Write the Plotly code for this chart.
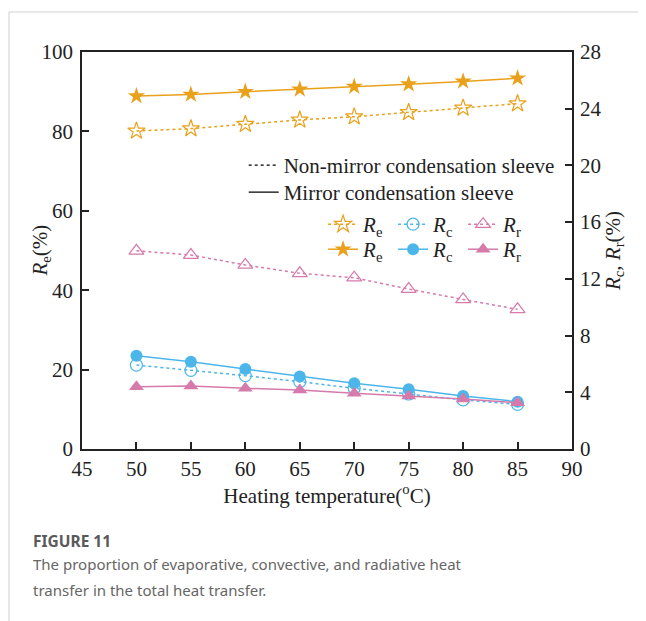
import plotly.graph_objects as go

temps = [50, 55, 60, 65, 70, 75, 80, 85]

# Non-mirror condensation sleeve
re_non = [80.1, 80.7, 81.8, 82.9, 83.7, 84.8, 85.9, 87.0]
rc_non = [5.92, 5.55, 5.17, 4.75, 4.28, 3.88, 3.46, 3.15]
rr_non = [13.98, 13.68, 12.98, 12.39, 12.08, 11.28, 10.55, 9.85]

# Mirror condensation sleeve
re_mir = [88.9, 89.3, 90.0, 90.6, 91.3, 91.9, 92.6, 93.4]
rc_mir = [6.58, 6.16, 5.64, 5.12, 4.63, 4.21, 3.74, 3.34]
rr_mir = [4.39, 4.44, 4.28, 4.16, 3.93, 3.74, 3.53, 3.27]

x_ticks = [45, 50, 55, 60, 65, 70, 75, 80, 85, 90]
y_left_ticks = [0, 20, 40, 60, 80, 100]
y_right_ticks = [0, 4, 8, 12, 16, 20, 24, 28]

ORANGE = "#E9A11B"
BLUE = "#4CB6EA"
PINK = "#D57AAA"
SERIF = "Liberation Serif, Times New Roman, serif"
FS = 21

fig = go.Figure()

# legend: line style explanation
fig.add_trace(go.Scatter(x=[None], y=[None], mode="lines", name="Non-mirror condensation sleeve",
                         line=dict(color="black", width=1.3, dash="dot"), legend="legend"))
fig.add_trace(go.Scatter(x=[None], y=[None], mode="lines", name="Mirror condensation sleeve",
                         line=dict(color="black", width=1.3), legend="legend2"))

# Non-mirror
fig.add_trace(go.Scatter(x=temps, y=re_non, mode="lines+markers", name="<i>R</i><sub>e</sub>",
                         line=dict(color=ORANGE, width=1.5, dash="dot"),
                         marker=dict(symbol="star-open", size=13, color=ORANGE, line=dict(width=1.2)),
                         legend="legend3", yaxis="y"))
fig.add_trace(go.Scatter(x=temps, y=rc_non, mode="lines+markers", name="<i>R</i><sub>c</sub>",
                         line=dict(color=BLUE, width=1.5, dash="dot"),
                         marker=dict(symbol="circle-open", size=12, color=BLUE, line=dict(width=1.2)),
                         legend="legend3", yaxis="y2"))
fig.add_trace(go.Scatter(x=temps, y=rr_non, mode="lines+markers", name="<i>R</i><sub>r</sub>",
                         line=dict(color=PINK, width=1.5, dash="dot"),
                         marker=dict(symbol="triangle-up-open", size=13, color=PINK, line=dict(width=1.2)),
                         legend="legend3", yaxis="y2"))

# Mirror
fig.add_trace(go.Scatter(x=temps, y=re_mir, mode="lines+markers", name="<i>R</i><sub>e</sub>",
                         line=dict(color=ORANGE, width=1.5),
                         marker=dict(symbol="star", size=13, color=ORANGE),
                         legend="legend4", yaxis="y"))
fig.add_trace(go.Scatter(x=temps, y=rc_mir, mode="lines+markers", name="<i>R</i><sub>c</sub>",
                         line=dict(color=BLUE, width=1.5),
                         marker=dict(symbol="circle", size=12, color=BLUE),
                         legend="legend4", yaxis="y2"))
fig.add_trace(go.Scatter(x=temps, y=rr_mir, mode="lines+markers", name="<i>R</i><sub>r</sub>",
                         line=dict(color=PINK, width=1.5),
                         marker=dict(symbol="triangle-up", size=13, color=PINK),
                         legend="legend4", yaxis="y2"))

axis_common = dict(showgrid=False, zeroline=False, showline=True, linecolor="#222", linewidth=1.5,
                   ticks="inside", ticklen=7, tickwidth=1.5, tickcolor="#222",
                   tickfont=dict(family=SERIF, size=FS, color="#222"))

leg_common = dict(xanchor="left", yanchor="top", bgcolor="rgba(0,0,0,0)",
                  font=dict(family=SERIF, size=FS, color="#222"))

fig.update_layout(
    width=638, height=613,
    paper_bgcolor="white", plot_bgcolor="white",
    margin=dict(l=74, r=74, t=44, b=172),
    font=dict(family=SERIF, size=FS, color="#222"),
    xaxis=dict(range=[45, 90], tickvals=x_ticks, mirror=True, ticklabelstandoff=0,
               title=dict(text="Heating temperature(<sup>o</sup>C)", font=dict(family=SERIF, size=FS),
                          standoff=2),
               **axis_common),
    yaxis=dict(range=[0, 100], tickvals=y_left_ticks, ticklabelstandoff=3, **axis_common),
    yaxis2=dict(range=[0, 28], tickvals=y_right_ticks, overlaying="y", side="right", ticklabelstandoff=2,
                title=dict(text="<i>R</i><sub>c</sub>, <i>R</i><sub>r</sub>(%)",
                           font=dict(family=SERIF, size=FS), standoff=4),
                **axis_common),
    legend=dict(x=0.33, y=0.766, **leg_common),
    legend2=dict(x=0.33, y=0.698, **leg_common),
    legend3=dict(x=0.492, y=0.617, orientation="h", entrywidth=25, **leg_common),
    legend4=dict(x=0.492, y=0.554, orientation="h", entrywidth=25, **leg_common),
    showlegend=True,
)

# left axis title
fig.add_annotation(xref="paper", yref="paper", x=-0.0857, y=0.5, xanchor="center", yanchor="middle",
                   text="<i>R</i><sub>e</sub>(%)", textangle=-90, showarrow=False,
                   font=dict(family=SERIF, size=FS, color="#222"))

# frame around figure panel (decorative)
fig.add_shape(type="line", xref="paper", yref="paper", x0=-0.149, x1=1.2, y0=1.1008, y1=1.1008,
              line=dict(color="#d0d0d0", width=1))
fig.add_shape(type="line", xref="paper", yref="paper", x0=-0.149, x1=-0.149, y0=1.1008, y1=-0.5,
              line=dict(color="#d0d0d0", width=1))

# caption
CAP_FONT = "Noto Sans, Open Sans, sans-serif"
fig.add_annotation(xref="paper", yref="paper", x=-0.104, y=-0.232, xanchor="left", yanchor="middle",
                   text="<b>FIGURE 11</b>", showarrow=False,
                   font=dict(family=CAP_FONT, size=15.5, color="#5a5a5a"))
fig.add_annotation(xref="paper", yref="paper", x=-0.104, y=-0.29, xanchor="left", yanchor="middle",
                   text="The proportion of evaporative, convective, and radiative heat",
                   showarrow=False, font=dict(family=CAP_FONT, size=15, color="#666"))
fig.add_annotation(xref="paper", yref="paper", x=-0.104, y=-0.355, xanchor="left", yanchor="middle",
                   text="transfer in the total heat transfer.",
                   showarrow=False, font=dict(family=CAP_FONT, size=15, color="#666"))

fig.write_html("out.html")
